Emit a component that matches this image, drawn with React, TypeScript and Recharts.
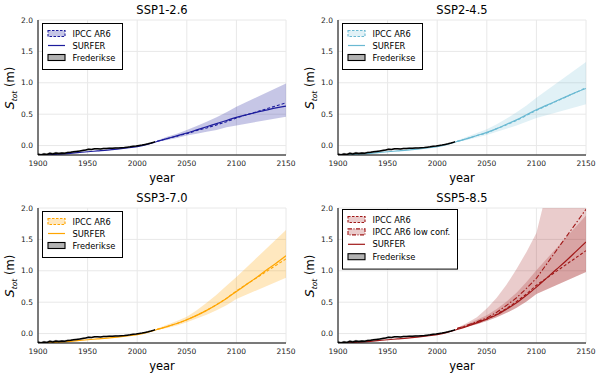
import { ComposedChart, Area, Line, XAxis, YAxis, CartesianGrid } from 'recharts';

// Frederikse et al. reconstruction (m)
const FRED_YEARS = [
  1900, 1903, 1906, 1909, 1912, 1915, 1918, 1921, 1924, 1927, 1930, 1933, 1936, 1939,
  1942, 1945, 1948, 1951, 1954, 1957, 1960, 1963, 1966, 1969, 1972, 1975, 1978, 1981,
  1984, 1987, 1990, 1993, 1996, 1999, 2002, 2005, 2008, 2011, 2014, 2017, 2018,
];
const FRED_GMSL = [
  -0.138, -0.148, -0.135, -0.142, -0.124, -0.132, -0.118, -0.125, -0.119, -0.121, -0.112,
  -0.108, -0.1, -0.094, -0.088, -0.078, -0.07, -0.058, -0.062, -0.052, -0.049, -0.053,
  -0.045, -0.047, -0.042, -0.044, -0.037, -0.039, -0.033, -0.031, -0.026, -0.02, -0.01,
  -0.006, 0.002, 0.008, 0.018, 0.028, 0.04, 0.055, 0.06,
];
const FRED_ERR = [
  0.022, 0.022, 0.021, 0.021, 0.02, 0.02, 0.019, 0.019, 0.018, 0.018, 0.017, 0.017, 0.016,
  0.016, 0.015, 0.015, 0.014, 0.014, 0.013, 0.013, 0.012, 0.012, 0.011, 0.011, 0.01, 0.01,
  0.01, 0.009, 0.009, 0.009, 0.008, 0.008, 0.007, 0.007, 0.007, 0.006, 0.006, 0.006, 0.006,
  0.006, 0.006,
];

// SURFER model, decadal
const SURFER_YEARS = [
  1900, 1910, 1920, 1930, 1940, 1950, 1960, 1970, 1980, 1990, 2000, 2010, 2020, 2030, 2040,
  2050, 2060, 2070, 2080, 2090, 2100, 2110, 2120, 2130, 2140, 2150,
];
const SURFER_HIST = [-0.155, -0.148, -0.138, -0.127, -0.113, -0.098, -0.085, -0.072, -0.056, -0.038, -0.016, 0.018];
const SURFER_SSP126 = [0.065, 0.11, 0.155, 0.2, 0.25, 0.3, 0.35, 0.4, 0.45, 0.49, 0.53, 0.565, 0.6, 0.63];
const SURFER_SSP245 = [0.065, 0.11, 0.16, 0.21, 0.27, 0.34, 0.41, 0.49, 0.57, 0.64, 0.71, 0.78, 0.85, 0.91];
const SURFER_SSP370 = [0.065, 0.11, 0.16, 0.22, 0.29, 0.37, 0.46, 0.56, 0.67, 0.78, 0.89, 1.01, 1.12, 1.24];
const SURFER_SSP585 = [0.065, 0.115, 0.17, 0.23, 0.3, 0.39, 0.49, 0.61, 0.74, 0.88, 1.02, 1.16, 1.31, 1.46];

// IPCC AR6 projections (median and likely range)
const IPCC_YEARS = [2020, 2030, 2040, 2050, 2060, 2070, 2080, 2090, 2100, 2150];
const IPCC_SSP126_MED = [0.07, 0.11, 0.15, 0.19, 0.24, 0.28, 0.33, 0.38, 0.44, 0.68];
const IPCC_SSP126_LO = [0.06, 0.09, 0.12, 0.16, 0.19, 0.22, 0.25, 0.29, 0.32, 0.46];
const IPCC_SSP126_HI = [0.08, 0.14, 0.19, 0.25, 0.31, 0.38, 0.45, 0.53, 0.62, 0.99];
const IPCC_SSP245_MED = [0.07, 0.11, 0.16, 0.2, 0.27, 0.33, 0.4, 0.48, 0.56, 0.92];
const IPCC_SSP245_LO = [0.06, 0.09, 0.13, 0.17, 0.22, 0.27, 0.32, 0.38, 0.44, 0.66];
const IPCC_SSP245_HI = [0.08, 0.14, 0.2, 0.26, 0.34, 0.43, 0.53, 0.64, 0.76, 1.33];
const IPCC_SSP370_MED = [0.07, 0.11, 0.16, 0.22, 0.29, 0.37, 0.46, 0.56, 0.68, 1.19];
const IPCC_SSP370_LO = [0.06, 0.09, 0.13, 0.18, 0.24, 0.3, 0.37, 0.45, 0.55, 0.89];
const IPCC_SSP370_HI = [0.08, 0.14, 0.2, 0.27, 0.37, 0.49, 0.62, 0.76, 0.9, 1.65];
const IPCC_SSP585_MED = [0.08, 0.12, 0.18, 0.23, 0.31, 0.4, 0.51, 0.63, 0.77, 1.32];
const IPCC_SSP585_LO = [0.07, 0.11, 0.15, 0.2, 0.26, 0.33, 0.41, 0.51, 0.63, 0.98];
const IPCC_SSP585_HI = [0.09, 0.15, 0.22, 0.29, 0.39, 0.51, 0.65, 0.82, 1.01, 1.88];
const IPCC_SSP585_LC_MED = [0.08, 0.13, 0.19, 0.25, 0.34, 0.45, 0.57, 0.72, 0.88, 1.98];
const IPCC_SSP585_LC_LO = [0.07, 0.11, 0.15, 0.2, 0.26, 0.33, 0.41, 0.51, 0.63, 0.98];
const IPCC_SSP585_LC_HI = [0.09, 0.17, 0.26, 0.4, 0.57, 0.78, 1.03, 1.3, 1.6, 4.82];

const X_TICKS = [1900, 1950, 2000, 2050, 2100, 2150];
const Y_TICKS = [0, 0.5, 1, 1.5, 2];

const FONT = 'DejaVu Sans';

type Scenario = {
  title: string;
  color: string;
  bandOpacity: number;
  surfer: number[];
  med: number[];
  lo: number[];
  hi: number[];
  lcMed?: number[];
  lcLo?: number[];
  lcHi?: number[];
};

const SCENARIOS: Scenario[] = [
  { title: 'SSP1-2.6', color: '#1c1c9c', bandOpacity: 0.25, surfer: SURFER_SSP126, med: IPCC_SSP126_MED, lo: IPCC_SSP126_LO, hi: IPCC_SSP126_HI },
  { title: 'SSP2-4.5', color: '#6ab9d2', bandOpacity: 0.2, surfer: SURFER_SSP245, med: IPCC_SSP245_MED, lo: IPCC_SSP245_LO, hi: IPCC_SSP245_HI },
  { title: 'SSP3-7.0', color: '#ffa500', bandOpacity: 0.25, surfer: SURFER_SSP370, med: IPCC_SSP370_MED, lo: IPCC_SSP370_LO, hi: IPCC_SSP370_HI },
  {
    title: 'SSP5-8.5', color: '#a01818', bandOpacity: 0.22, surfer: SURFER_SSP585,
    med: IPCC_SSP585_MED, lo: IPCC_SSP585_LO, hi: IPCC_SSP585_HI,
    lcMed: IPCC_SSP585_LC_MED, lcLo: IPCC_SSP585_LC_LO, lcHi: IPCC_SSP585_LC_HI,
  },
];

function buildRows(s: Scenario) {
  const rows = new Map<number, any>();
  const get = (y: number) => {
    if (!rows.has(y)) {
      rows.set(y, { year: y, fredBand: [null, null], ipccBand: [null, null], lcBand: [null, null] });
    }
    return rows.get(y);
  };
  FRED_YEARS.forEach((y, i) => {
    const r = get(y);
    r.fred = FRED_GMSL[i];
    r.fredBand = [FRED_GMSL[i] - FRED_ERR[i], FRED_GMSL[i] + FRED_ERR[i]];
  });
  const surfer = [...SURFER_HIST, ...s.surfer];
  SURFER_YEARS.forEach((y, i) => {
    get(y).surfer = surfer[i];
  });
  IPCC_YEARS.forEach((y, i) => {
    const r = get(y);
    r.ipccMed = s.med[i];
    r.ipccBand = [s.lo[i], s.hi[i]];
    if (s.lcMed && s.lcLo && s.lcHi) {
      r.lcMed = s.lcMed[i];
      r.lcBand = [s.lcLo[i], s.lcHi[i]];
    }
  });
  return [...rows.values()].sort((a, b) => a.year - b.year);
}

function Overlay({ s }: { s: Scenario }) {
  const lc = !!s.lcMed;
  const items: { label: string; kind: 'band' | 'lcband' | 'line' | 'fred' }[] = lc
    ? [
        { label: 'IPCC AR6', kind: 'band' },
        { label: 'IPCC AR6 low conf.', kind: 'lcband' },
        { label: 'SURFER', kind: 'line' },
        { label: 'Frederikse', kind: 'fred' },
      ]
    : [
        { label: 'IPCC AR6', kind: 'band' },
        { label: 'SURFER', kind: 'line' },
        { label: 'Frederikse', kind: 'fred' },
      ];
  const boxTop = lc ? 21 : 23;
  const boxW = lc ? 115 : 80;
  const rowH = lc ? 12.4 : 12;
  const boxH = items.length * rowH + 10;
  return (
    <svg
      width={300}
      height={189}
      style={{ position: 'absolute', left: 0, top: 0, pointerEvents: 'none', fontFamily: FONT }}
    >
      <text x={162} y={14} textAnchor="middle" fontSize={11.5} fill="#000">
        {s.title}
      </text>
      <text x={162} y={182} textAnchor="middle" fontSize={11.5} fill="#000">
        year
      </text>
      <text transform="translate(14, 88) rotate(-90)" textAnchor="middle" fontSize={11.5} fill="#000">
        <tspan fontStyle="italic" fontSize={12.5}>S</tspan>
        <tspan fontStyle="italic" fontSize={7.5} dy={2.5}>tot</tspan>
        <tspan dy={-2.5}> (m)</tspan>
      </text>
      <g transform={`translate(42, ${boxTop})`}>
        <rect x={0.5} y={0.5} width={boxW} height={boxH} fill="#fff" stroke="#000" strokeWidth={1} />
        {items.map((it, i) => {
          const cy = 10.5 + i * rowH;
          let sym;
          if (it.kind === 'band' || it.kind === 'lcband') {
            sym = (
              <rect
                x={6}
                y={cy - 3}
                width={17}
                height={6}
                fill={s.color}
                fillOpacity={s.bandOpacity}
                stroke={s.color}
                strokeWidth={1.1}
                strokeDasharray={it.kind === 'band' ? '2.5 1.5' : '4 1.5 1 1.5'}
              />
            );
          } else if (it.kind === 'line') {
            sym = <line x1={6} x2={23} y1={cy} y2={cy} stroke={s.color} strokeWidth={1.2} />;
          } else {
            sym = <rect x={6} y={cy - 3} width={17} height={6} fill="#b3b3b3" stroke="#000" strokeWidth={1.1} />;
          }
          return (
            <g key={it.label}>
              {sym}
              <text x={30.5} y={cy + 3} fontSize={8.3} fill="#000">
                {it.label}
              </text>
            </g>
          );
        })}
      </g>
    </svg>
  );
}

function Panel({ s, left, top }: { s: Scenario; left: number; top: number }) {
  const rows = buildRows(s);
  return (
    <div style={{ position: 'absolute', left, top, width: 300, height: 189 }}>
      <ComposedChart width={300} height={189} data={rows} margin={{ top: 20, right: 14, left: 0, bottom: 0 }}>
        <CartesianGrid stroke="#e8e8e8" />
        <XAxis
          dataKey="year"
          type="number"
          domain={[1900, 2150]}
          ticks={X_TICKS}
          allowDataOverflow
          height={34}
          tickSize={0}
          tickMargin={6}
          axisLine={{ stroke: '#000' }}
          tick={{ fontSize: 7.5, fill: '#222', fontFamily: FONT }}
        />
        <YAxis
          type="number"
          domain={[-0.15, 2]}
          ticks={Y_TICKS}
          allowDataOverflow
          width={38}
          tickSize={0}
          tickMargin={5}
          tickFormatter={(v: number) => v.toFixed(1)}
          axisLine={{ stroke: '#000' }}
          tick={{ fontSize: 7.5, fill: '#222', fontFamily: FONT }}
        />
        {s.lcMed && (
          <Area
            dataKey="lcBand"
            type="linear"
            fill={s.color}
            fillOpacity={s.bandOpacity}
            stroke="none"
            connectNulls
            dot={false}
            activeDot={false}
            isAnimationActive={false}
          />
        )}
        <Area
          dataKey="ipccBand"
          type="linear"
          fill={s.color}
          fillOpacity={s.bandOpacity}
          stroke="none"
          connectNulls
          dot={false}
          activeDot={false}
          isAnimationActive={false}
        />
        <Area
          dataKey="fredBand"
          type="linear"
          fill="#7f7f7f"
          fillOpacity={0.5}
          stroke="none"
          connectNulls
          dot={false}
          activeDot={false}
          isAnimationActive={false}
        />
        {s.lcMed && (
          <Line
            dataKey="lcMed"
            type="linear"
            stroke={s.color}
            strokeWidth={1.1}
            strokeDasharray="5 2 1.5 2"
            connectNulls
            dot={false}
            activeDot={false}
            isAnimationActive={false}
          />
        )}
        <Line
          dataKey="ipccMed"
          type="linear"
          stroke={s.color}
          strokeWidth={1.1}
          strokeDasharray="3 2"
          connectNulls
          dot={false}
          activeDot={false}
          isAnimationActive={false}
        />
        <Line
          dataKey="surfer"
          type="monotone"
          stroke={s.color}
          strokeWidth={1.2}
          connectNulls
          dot={false}
          activeDot={false}
          isAnimationActive={false}
        />
        <Line
          dataKey="fred"
          type="linear"
          stroke="#000"
          strokeWidth={1.5}
          connectNulls
          dot={false}
          activeDot={false}
          isAnimationActive={false}
        />
      </ComposedChart>
      <Overlay s={s} />
    </div>
  );
}

export default function App() {
  return (
    <div style={{ position: 'absolute', left: 0, top: 0, width: 600, height: 378, background: '#fff' }}>
      <Panel s={SCENARIOS[0]} left={0} top={0} />
      <Panel s={SCENARIOS[1]} left={300} top={0} />
      <Panel s={SCENARIOS[2]} left={0} top={188} />
      <Panel s={SCENARIOS[3]} left={300} top={188} />
    </div>
  );
}
